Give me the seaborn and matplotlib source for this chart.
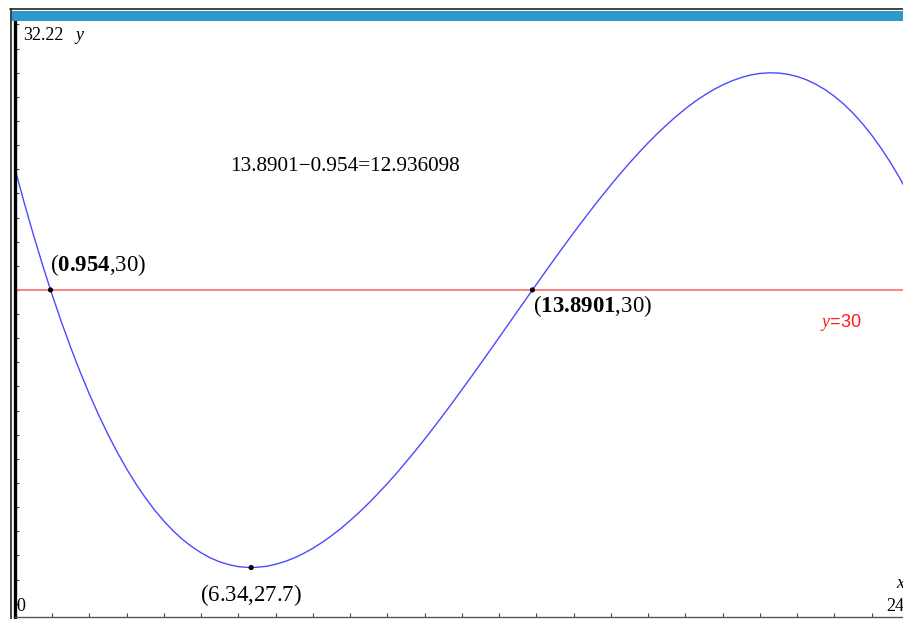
import numpy as np
import pandas as pd
import seaborn as sns
import matplotlib.pyplot as plt

# valores (curva cada 0.25 en x)
curva_x = [0, 0.25, 0.5, 0.75, 1, 1.25, 1.5, 1.75, 2, 2.25, 2.5, 2.75, 3, 3.25,
           3.5, 3.75, 4, 4.25, 4.5, 4.75, 5, 5.25, 5.5, 5.75, 6, 6.25, 6.34, 6.5,
           6.75, 7, 7.25, 7.5, 7.75, 8, 8.25, 8.5, 8.75, 9, 9.25, 9.5, 9.75, 10,
           10.25, 10.5, 10.75, 11, 11.25, 11.5, 11.75, 12, 12.25, 12.5, 12.75, 13,
           13.25, 13.5, 13.75, 14, 14.25, 14.5, 14.75, 15, 15.25, 15.5, 15.75, 16,
           16.25, 16.5, 16.75, 17, 17.25, 17.5, 17.75, 18, 18.25, 18.5, 18.75, 19,
           19.25, 19.5, 19.75, 20, 20.25, 20.5, 20.75, 21, 21.25, 21.5, 21.75, 22,
           22.25, 22.5, 22.75, 23, 23.25, 23.5, 23.75, 24]
curva_y = [31.002, 30.719, 30.451, 30.197, 29.957, 29.731, 29.519, 29.320, 29.134,
           28.961, 28.801, 28.652, 28.516, 28.391, 28.278, 28.175, 28.084, 28.003,
           27.932, 27.872, 27.821, 27.779, 27.746, 27.723, 27.707, 27.701, 27.700,
           27.702, 27.710, 27.727, 27.750, 27.780, 27.817, 27.860, 27.909, 27.964,
           28.024, 28.090, 28.160, 28.235, 28.314, 28.397, 28.484, 28.575, 28.668,
           28.765, 28.864, 28.966, 29.069, 29.175, 29.281, 29.389, 29.498, 29.608,
           29.718, 29.828, 29.938, 30.047, 30.156, 30.264, 30.370, 30.475, 30.577,
           30.678, 30.776, 30.871, 30.964, 31.053, 31.138, 31.220, 31.297, 31.370,
           31.438, 31.502, 31.560, 31.612, 31.659, 31.699, 31.733, 31.760, 31.781,
           31.794, 31.799, 31.797, 31.787, 31.768, 31.741, 31.704, 31.659, 31.604,
           31.539, 31.464, 31.378, 31.282, 31.175, 31.057, 30.928, 30.786]

puntos_x = [0.954, 13.8901, 6.34]
puntos_y = [30, 30, 27.7]
nivel = 30

x_min, x_max = 0, 23.866
y_min, y_max = 27.29, 32.22

W, H = 904, 619

sns.set_theme(style="white")
plt.rcParams['mathtext.fontset'] = 'custom'
plt.rcParams['mathtext.rm'] = 'Liberation Serif'
plt.rcParams['mathtext.bf'] = 'Liberation Serif:bold'
plt.rcParams['mathtext.it'] = 'Liberation Serif:italic'
plt.rcParams['font.family'] = ['Liberation Serif', 'DejaVu Sans']
plt.rcParams['text.color'] = 'black'

fig = plt.figure(figsize=(W / 100, H / 100), dpi=100)

# marco exterior y barra azul superior
fig.add_artist(plt.Line2D([10 / W, 1], [1 - 8.5 / H, 1 - 8.5 / H], color="#222222", lw=1.2))
fig.add_artist(plt.Line2D([10.5 / W, 10.5 / W], [0, 1 - 8.5 / H], color="#222222", lw=1.2))
fig.add_artist(plt.Rectangle((12 / W, 1 - 21 / H), 1, 10 / H, color="#2a9bc8", lw=0))

ax = fig.add_axes([15 / W, 2 / H, (W - 15) / W, (617 - 22) / H])

df = pd.DataFrame({"x": curva_x, "y": curva_y})
ax.axhline(nivel, color="#ff6b6b", lw=1.2, zorder=1)
sns.lineplot(data=df, x="x", y="y", color="#4a4aff", lw=1.0, ax=ax, zorder=2)
sns.scatterplot(x=puntos_x, y=puntos_y, color="black", s=14, ax=ax, zorder=3,
                edgecolor="none")

ax.set_xlim(x_min, x_max)
ax.set_ylim(y_min, y_max)
ax.set_xlabel("")
ax.set_ylabel("")

for s in ["top", "right"]:
    ax.spines[s].set_visible(False)
ax.spines["left"].set_color("black")
ax.spines["left"].set_linewidth(2.4)
ax.spines["bottom"].set_color("#555555")
ax.spines["bottom"].set_linewidth(1.0)

ax.set_xticks(np.arange(1, 24, 1))
ax.set_yticks(np.arange(27.4, 32.21, 0.2))
ax.tick_params(axis="both", direction="in", length=3, width=0.8, color="#444444",
               labelleft=False, labelbottom=False, left=True, bottom=True)

# flecha del eje y
ax.annotate("", xy=(0.0, 32.22), xytext=(0.07, 32.19),
            arrowprops=dict(arrowstyle="-", color="black", lw=1.0))

# textos
ax.text(0.22, 32.22 - 0.04, "32.22", fontsize=13, ha="left", va="top")
ax.text(1.62, 32.22 - 0.04, "y", fontsize=13, style="italic", ha="left", va="top")
ax.text(0.05, 27.31, "0", fontsize=13, ha="left", va="bottom")
ax.text(x_max, 27.31, "24", fontsize=13, ha="right", va="bottom")
ax.text(x_max, 27.5, "x", fontsize=13, style="italic", ha="right", va="bottom")

ax.text(5.77, 31.02, "13.8901\u22120.954=12.936098", fontsize=15.3, ha="left",
        va="center")
ax.text(0.95, 30.1, r"$(\mathbf{0.954}{,}30)$", fontsize=16.5, ha="left", va="bottom")
ax.text(13.9, 29.87, r"$(\mathbf{13.8901}{,}30)$", fontsize=16.5, ha="left", va="center")
ax.text(4.97, 27.47, r"$(6.34{,}27.7)$", fontsize=16.5, ha="left", va="center")
ax.text(21.6, 29.73, r"$\mathit{y}$=30", fontsize=13, color="#ff1a1a", ha="left",
        va="center", family=["Liberation Sans", "DejaVu Sans"])

plt.savefig("out.png", dpi=100)
plt.close()
